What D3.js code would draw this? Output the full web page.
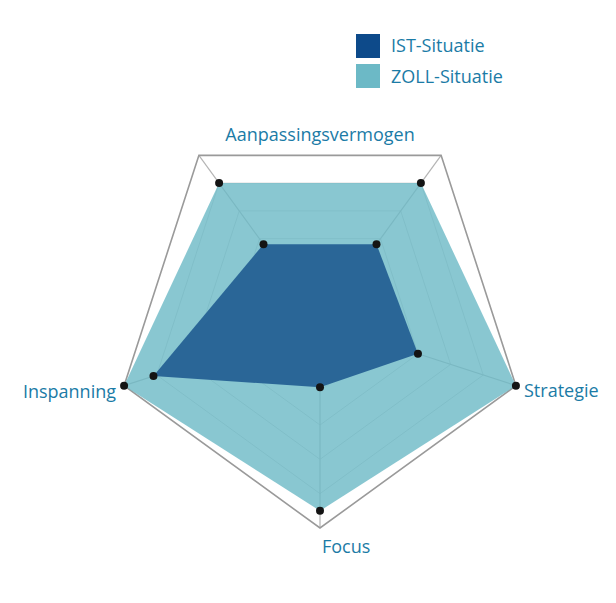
<!DOCTYPE html>
<html>
<head>
<meta charset="utf-8">
<script src="https://cdn.jsdelivr.net/npm/d3@7"></script>
<style>
  body { margin: 0; background: #fff; }
  svg { display: block; }
  text { font-family: "Open Sans", sans-serif; fill: #1b7ba6; }
</style>
</head>
<body>
<script>
// axes, clockwise from the top-right corner
var axes = ["Aanpassingsvermogen 1", "Strategie", "Focus", "Inspanning", "Aanpassingsvermogen 2"];
var istValues = [2.8, 3, 1.9, 5.1, 2.8];
var zollValues = [5, 6, 5.5, 6, 5];
var levels = [1, 2, 3, 4, 5, 6];
var maxValue = 6;

var seriesNames = ["IST-Situatie", "ZOLL-Situatie"];
var seriesColors = ["#0d4a8a", "#6cb9c6"];
// colour the areas show on the page (IST is drawn over ZOLL)
var areaColors = ["#2a6697", "#6cb9c6"];
var areaOpacity = [1, 0.8];

var labelTexts = ["Aanpassingsvermogen", "Strategie", "Focus", "Inspanning"];

var width = 616, height = 603;
var cx = 320, cy = 322, R = 206;

var svg = d3.select("body").append("svg")
    .attr("width", width)
    .attr("height", height);

var g = svg.append("g").attr("transform", "translate(" + cx + "," + cy + ")");

var r = d3.scaleLinear().domain([0, maxValue]).range([0, R]);
var angle = d3.scaleLinear().domain([0, axes.length]).range([Math.PI / 5, Math.PI / 5 + 2 * Math.PI]);

function px(i, v) { return r(v) * Math.sin(angle(i)); }
function py(i, v) { return -r(v) * Math.cos(angle(i)); }

var radial = d3.lineRadial()
    .angle(function(d, i) { return angle(i); })
    .radius(function(d) { return r(d); })
    .curve(d3.curveLinearClosed);

// inner grid
g.selectAll(".grid")
    .data(levels.slice(0, -1))
    .enter().append("path")
    .attr("d", function(l) { return radial(axes.map(function() { return l; })); })
    .style("fill", "none")
    .style("stroke", "#d2d2d2")
    .style("stroke-width", 1);

// spokes
g.selectAll(".spoke")
    .data(axes)
    .enter().append("line")
    .attr("x1", 0).attr("y1", 0)
    .attr("x2", function(d, i) { return px(i, maxValue); })
    .attr("y2", function(d, i) { return py(i, maxValue); })
    .style("stroke", "#b4b4b4")
    .style("stroke-width", 1.2);

// outer border
g.append("path")
    .attr("d", radial(axes.map(function() { return maxValue; })))
    .style("fill", "none")
    .style("stroke", "#9a9a9a")
    .style("stroke-width", 1.6);

// areas
var series = [istValues, zollValues];
[1, 0].forEach(function(s) {
  g.append("path")
      .attr("d", radial(series[s]))
      .style("fill", areaColors[s])
      .style("fill-opacity", areaOpacity[s])
      .style("stroke", "none");
});

// points
series.forEach(function(vals) {
  g.selectAll(null)
      .data(vals)
      .enter().append("circle")
      .attr("cx", function(d, i) { return px(i, d); })
      .attr("cy", function(d, i) { return py(i, d); })
      .attr("r", 4)
      .style("fill", "#141414");
});

// labels
var labelPos = [
  {x: 0, y: -181, anchor: "middle"},
  {x: 204, y: 75, anchor: "start"},
  {x: 2, y: 231, anchor: "start"},
  {x: -204, y: 76, anchor: "end"}
];
g.selectAll(".label")
    .data(labelTexts)
    .enter().append("text")
    .attr("x", function(d, i) { return labelPos[i].x; })
    .attr("y", function(d, i) { return labelPos[i].y; })
    .attr("text-anchor", function(d, i) { return labelPos[i].anchor; })
    .style("font-size", "18px")
    .text(function(d) { return d; });

// legend
var legend = svg.append("g").attr("transform", "translate(356,34)");
legend.selectAll("rect")
    .data(seriesNames)
    .enter().append("rect")
    .attr("x", 0)
    .attr("y", function(d, i) { return i * 30; })
    .attr("width", 24)
    .attr("height", 24)
    .style("fill", function(d, i) { return seriesColors[i]; });
legend.selectAll("text")
    .data(seriesNames)
    .enter().append("text")
    .attr("x", 35)
    .attr("y", function(d, i) { return 18 + i * 31; })
    .style("font-size", "18px")
    .text(function(d) { return d; });
</script>
</body>
</html>
